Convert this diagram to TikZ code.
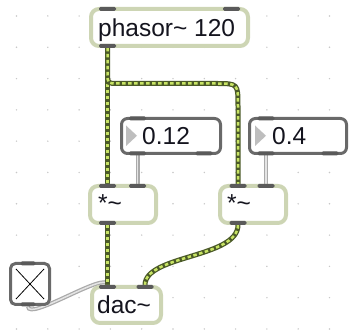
\documentclass[tikz,border=0pt]{standalone}
\usepackage{fontspec}
\setmainfont{Liberation Sans}
\definecolor{sage}{RGB}{205,213,180}
\definecolor{portgray}{RGB}{90,90,90}
\definecolor{cordDark}{RGB}{75,90,40}
\definecolor{cordLight}{RGB}{200,228,100}
\definecolor{numgray}{RGB}{105,105,105}
\definecolor{trigray}{RGB}{190,190,190}
\definecolor{dotgray}{RGB}{200,200,200}
\definecolor{gcordout}{RGB}{170,170,170}
\definecolor{gcordin}{RGB}{228,228,228}
\definecolor{txt}{RGB}{20,20,30}
\pgfdeclarelayer{bg}
\pgfsetlayers{bg,main}
\tikzset{
  objbox/.style={draw=sage, line width=4pt, fill=white, rounded corners=8pt, inner sep=0pt},
  numbox/.style={draw=numgray, line width=3pt, fill=white, rounded corners=6pt, inner sep=0pt},
  port/.style={fill=portgray, rounded corners=1.5pt, minimum width=17pt, minimum height=4pt, inner sep=0pt, outer sep=0pt},
  maxtext/.style={anchor=base west, inner sep=0pt, text=txt, font=\fontsize{24.5}{24.5}\selectfont},
  sigcord/.style={draw=cordDark, line width=5pt, postaction={draw=cordLight, line width=2.5pt, dash pattern=on 3.5pt off 2.5pt}},
  msgcord/.style={draw=gcordout, line width=4pt, postaction={draw=gcordin, line width=1.5pt}},
  griddot/.style={fill=dotgray}
}
\begin{document}
\begin{tikzpicture}[x=1pt,y=-1pt]
\useasboundingbox (0,0) rectangle (349,331);
% boxes
\node[objbox, minimum width=157pt, minimum height=37pt] (phasor) at (169.5,27.5) {};
\node[maxtext] (phasortxt) at (98,37) {phasor\textasciitilde{} 120};
\node[port] (phasorin1) at (107.5,9) {};
\node[port] (phasorin2) at (231.5,9) {};
\node[port] (phasorout) at (107.5,46) {};

\node[numbox, minimum width=99pt, minimum height=35pt] (numA) at (171,136) {};
\fill[trigray] (126,125.5) -- (126,146) -- (137,135.75) -- cycle;
\node[maxtext] (numAtxt) at (142,145) {0.12};
\node[port] (numAin) at (137.5,118.5) {};
\node[port] (numAout1) at (137.5,153.5) {};
\node[port] (numAout2) at (204,153.5) {};

\node[numbox, minimum width=97pt, minimum height=35pt] (numB) at (298,136) {};
\fill[trigray] (255,125.5) -- (255,146) -- (266,135.75) -- cycle;
\node[maxtext] (numBtxt) at (272,145) {0.4};
\node[port] (numBin) at (266,118.5) {};
\node[port] (numBout1) at (266,153.5) {};
\node[port] (numBout2) at (330,153.5) {};

\node[objbox, minimum width=66pt, minimum height=37pt] (mulA) at (123,204.5) {};
\node[maxtext] (mulAtxt) at (98,212) {*\textasciitilde};
\node[port] (mulAin1) at (107.5,186) {};
\node[port] (mulAin2) at (137.5,186) {};
\node[port] (mulAout) at (107.5,223) {};

\node[objbox, minimum width=66pt, minimum height=37pt] (mulB) at (253,204.5) {};
\node[maxtext] (mulBtxt) at (227,212) {*\textasciitilde};
\node[port] (mulBin1) at (238,186) {};
\node[port] (mulBin2) at (266,186) {};
\node[port] (mulBout) at (238,223) {};

\node[objbox, minimum width=69pt, minimum height=36pt] (dac) at (126.5,305) {};
\node[maxtext] (dactxt) at (97,314) {dac\textasciitilde};
\node[port] (dacin1) at (107.5,287) {};
\node[port] (dacin2) at (145,287) {};

\node[numbox, rounded corners=5pt, minimum width=39pt, minimum height=41pt] (tog) at (30,284) {};
\draw[black, line width=0.8pt] (16,269) -- (44,299) (44,269) -- (16,299);
\node[port, minimum width=15pt] (togin) at (28,263.5) {};
\node[port, minimum width=15pt] (togout) at (28,304.5) {};

\begin{pgfonlayer}{bg}
\foreach \i in {0,...,10}{
  \foreach \j in {0,...,10}{
    \fill[griddot] (16.5+31.3*\i,16+31.3*\j) circle (0.8pt);
  }
}
\draw[msgcord] (numAout1) -- (mulAin2);
\draw[msgcord] (numBout1) -- (mulBin2);
\draw[msgcord] (togout) .. controls (28,322) and (107.5,270) .. (dacin1);
\draw[sigcord] (phasorout) -- (mulAin1);
\draw[sigcord] (phasorout) -- (107.5,73) .. controls (107.5,83.5) .. (118,83.5) -- (216,83.5) .. controls (238,83.5) .. (238,106) -- (mulBin1);
\draw[sigcord] (mulAout) -- (dacin1);
\draw[sigcord] (mulBout) .. controls (238,258) and (145,255) .. (dacin2);
\end{pgfonlayer}
\end{tikzpicture}
\end{document}
